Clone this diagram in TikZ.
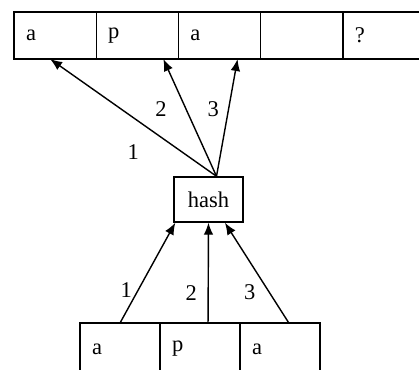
\documentclass[tikz,border=0pt]{standalone}
\usepackage{fontspec}
\setmainfont{Liberation Serif}
\usetikzlibrary{positioning,calc,arrows.meta}
\begin{document}
\begin{tikzpicture}[
  x=0.025cm, y=-0.025cm,
  every node/.style={font=\fontsize{16}{19}\selectfont},
  cell/.style={draw, line width=1pt, outer sep=0pt, minimum height=1.175cm,
    text width=1.455cm, inner xsep=0.3cm, align=left},
  hashbox/.style={draw, line width=1pt, minimum width=1.725cm, minimum height=1.125cm},
  link/.style={line width=1pt, -{Latex[length=3mm,width=2.4mm]}}
]
  \clip (0,0) rectangle (419,369);
  % table at the top
  \node[cell, anchor=north west] (t1) at (14,12) {a};
  \node[cell, right=0pt of t1] (t2) {p};
  \node[cell, right=0pt of t2] (t3) {a};
  \node[cell, right=0pt of t3] (t4) {};
  \node[cell, right=0pt of t4] (t5) {?};
  % hash function
  \node[hashbox] (hash) at (208.5,199.5) {hash};
  % key at the bottom
  \node[cell, text width=1.4cm, minimum height=1.3cm, anchor=north west] (b1) at (80,323) {a};
  \node[cell, text width=1.4cm, minimum height=1.3cm, right=0pt of b1] (b2) {p};
  \node[cell, text width=1.4cm, minimum height=1.3cm, right=0pt of b2] (b3) {a};
  \coordinate (hs) at ([xshift=0.2cm]hash.north);
  \draw[link] (hs) -- ([xshift=-0.125cm]t1.south) node[pos=0.5, yshift=-0.85cm] {1};
  \draw[link] (hs) -- ([xshift=0.65cm]t2.south) node[pos=0.57, xshift=-0.63cm] {2};
  \draw[link] (hs) -- ([xshift=0.45cm]t3.south) node[pos=0.57, xshift=-0.38cm] {3};
  \draw[link] (b1.north) -- ([xshift=0.05cm]hash.south west) node[pos=0.33, xshift=-0.3cm] {1};
  \draw[link] ([xshift=0.2cm]b2.north) -- (hash.south) node[pos=0.3, xshift=-0.42cm] {2};
  \draw[link] ([xshift=0.22cm]b3.north) -- ([xshift=0.41cm]hash.south) node[pos=0.31, xshift=-0.48cm] {3};
\end{tikzpicture}
\end{document}
